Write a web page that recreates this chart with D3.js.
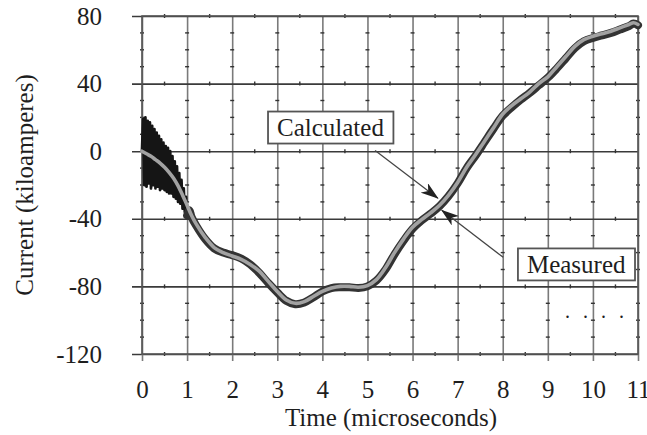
<!DOCTYPE html>
<html>
<head>
<meta charset="utf-8">
<title>Current vs time</title>
<style>
  html, body { margin: 0; padding: 0; background: #fff; }
  svg, text { font-family: "Liberation Serif", "Times New Roman", serif; }
  text { fill: #1e1e1e; }
</style>
</head>
<body>
<script src="https://cdn.jsdelivr.net/npm/d3@7/dist/d3.min.js"></script>
<script>
// axis ticks
var xTicks = [0, 1, 2, 3, 4, 5, 6, 7, 8, 9, 10, 11];
var yTicks = [-120, -80, -40, 0, 40, 80];

// calculated current (kA) vs time (microseconds)
var calcTime = [0, 0.1, 0.2, 0.3, 0.4, 0.5, 0.6, 0.7, 0.8, 0.9, 1.0, 1.1, 1.2, 1.4, 1.6, 1.8,
  2.0, 2.2, 2.4, 2.6, 2.8, 3.0, 3.2, 3.4, 3.6, 3.8, 4.0, 4.2, 4.4, 4.6, 4.8, 5.0, 5.2, 5.4,
  5.6, 5.8, 6.0, 6.2, 6.4, 6.6, 6.8, 7.0, 7.2, 7.4, 7.6, 7.8, 8.0, 8.2, 8.4, 8.6, 8.8, 9.0,
  9.2, 9.4, 9.6, 9.8, 10.0, 10.2, 10.4, 10.6, 10.8, 10.9, 11.0];
var calcCurrent = [0, -1.5, -3, -5, -7, -9.5, -12.5, -16, -20.5, -26, -32, -38, -43, -51, -57, -60,
  -62, -64, -67, -71, -77, -83, -88, -90, -89, -86, -83, -81, -80, -80, -80.5, -79.5, -76, -69,
  -60, -52, -45, -40.5, -36.5, -32, -26, -18.5, -9.5, -2, 6, 14, 22, 27, 31, 35, 40, 44,
  50, 56, 62, 66, 68, 69.5, 71, 73, 75, 76, 75];

// measured current: ringing during the first microsecond, then the main wave
var measTime = [0, 0.025, 0.05, 0.075, 0.1, 0.125, 0.15, 0.175, 0.2, 0.225, 0.25, 0.275, 0.3,
  0.325, 0.35, 0.375, 0.4, 0.425, 0.45, 0.475, 0.5, 0.525, 0.55, 0.575, 0.6, 0.625, 0.65,
  0.675, 0.7, 0.725, 0.75, 0.775, 0.8, 0.825, 0.85, 0.875, 0.9, 0.925, 0.95, 0.975, 1.0,
  1.05, 1.1, 1.2, 1.4, 1.6, 1.8, 2.0, 2.2, 2.4, 2.6, 2.8, 3.0, 3.2, 3.4, 3.6, 3.8, 4.0, 4.2,
  4.4, 4.6, 4.8, 5.0, 5.2, 5.4, 5.6, 5.8, 6.0, 6.2, 6.4, 6.6, 6.8, 7.0, 7.2, 7.4, 7.6, 7.8,
  8.0, 8.2, 8.4, 8.6, 8.8, 9.0, 9.2, 9.4, 9.6, 9.8, 10.0, 10.2, 10.4, 10.6, 10.8, 10.9, 11.0];
var measCurrent = [0, 19, -20, 20, -21, 18, -19, 17, -22, 15, -20, 13, -22,
  11, -21, 9, -23, 7, -22, 5, -23, 3, -24, 2, -25, 0, -25,
  -3, -27, -6, -28, -9, -30, -13, -31, -17, -34, -22, -36, -27, -38,
  -35, -39, -44, -52, -57.5, -60, -61.5, -63.5, -67, -72, -78, -83.5, -88.5, -90.5, -89.5, -86.5, -83, -81,
  -80.5, -80.5, -81, -80, -76.5, -70, -61, -53, -46, -41, -37, -32.5, -26.5, -19, -10, -2.5, 5.5, 13.5,
  21, 26, 30.5, 34.5, 39, 43.5, 49, 55, 61, 65, 67, 68.5, 70, 72, 74, 75.5, 74.5];
var ringingEnd = 1.05;

// annotation labels: box centre and arrow, in data units
var notes = [
  { text: "Calculated", t: 4.18, v: 14, from: [5.17, 0.4], to: [6.56, -27.8] },
  { text: "Measured", t: 9.63, v: -67, from: [8.01, -62.8], to: [6.65, -35] }
];

var W = 647, H = 435;
var x = d3.scaleLinear().domain([0, 11]).range([142, 638]);
var y = d3.scaleLinear().domain([-120, 80]).range([354, 16]);
var fmt = function (d) { return String(d); };

var svg = d3.select("body").append("svg")
  .attr("width", W).attr("height", H)
  .attr("font-family", "Liberation Serif, serif");

// vertical grid
svg.append("g")
  .attr("transform", "translate(0," + y(-120) + ")")
  .call(d3.axisBottom(x).tickValues(xTicks).tickSize(-(y(-120) - y(80))).tickFormat(""))
  .call(function (g) {
    g.select(".domain").remove();
    g.selectAll("line").attr("stroke", "#7a7a7a").attr("stroke-width", 1.6);
  });

// horizontal grid (reaches a bit left of the frame)
svg.append("g")
  .attr("transform", "translate(" + x(11) + ",0)")
  .call(d3.axisLeft(y).tickValues(yTicks).tickSize(x(11) - x(0) + 10).tickFormat(""))
  .call(function (g) {
    g.select(".domain").remove();
    g.selectAll("line").attr("stroke", "#3a3a3a").attr("stroke-width", 1.6);
  });

// minor ticks along the grid lines
var minorY = d3.range(-120, 81, 10).filter(function (v) { return v % 40 !== 0; });
var minorX = d3.range(0.5, 11, 1);
var minor = svg.append("g").attr("stroke", "#333").attr("stroke-width", 1.4);
xTicks.forEach(function (t) {
  minor.selectAll(null).data(minorY).enter().append("line")
    .attr("x1", x(t) - 2).attr("x2", x(t) + 2)
    .attr("y1", function (v) { return y(v); }).attr("y2", function (v) { return y(v); });
});
yTicks.forEach(function (v) {
  minor.selectAll(null).data(minorX).enter().append("line")
    .attr("x1", function (t) { return x(t); }).attr("x2", function (t) { return x(t); })
    .attr("y1", y(v) - 2).attr("y2", y(v) + 2);
});

// tick labels
svg.append("g")
  .attr("transform", "translate(0," + y(-120) + ")")
  .call(d3.axisBottom(x).tickValues(xTicks).tickSize(7).tickPadding(19).tickFormat(fmt))
  .call(function (g) {
    g.attr("font-family", null).attr("font-size", null);
    g.select(".domain").remove();
    g.selectAll("line").attr("stroke", "#7a7a7a").attr("stroke-width", 1.6);
    g.selectAll("text").attr("font-size", 25);
  });

svg.append("g")
  .attr("transform", "translate(" + x(0) + ",0)")
  .call(d3.axisLeft(y).tickValues(yTicks).tickSize(0).tickPadding(40).tickFormat(fmt))
  .call(function (g) {
    g.attr("font-family", null).attr("font-size", null);
    g.select(".domain").remove();
    g.selectAll("text").attr("font-size", 25);
  });

// frame
svg.append("rect")
  .attr("x", x(0)).attr("y", y(80))
  .attr("width", x(11) - x(0)).attr("height", y(-120) - y(80))
  .attr("fill", "none").attr("stroke", "#555").attr("stroke-width", 1.6);

// axis titles
svg.append("text")
  .attr("x", 391).attr("y", 426)
  .attr("text-anchor", "middle").attr("font-size", 25)
  .text("Time (microseconds)");

svg.append("text")
  .attr("transform", "translate(33," + ((y(80) + y(-120)) / 2) + ") rotate(-90)")
  .attr("text-anchor", "middle").attr("font-size", 25)
  .text("Current (kiloamperes)");

// curves
var line = d3.line()
  .x(function (d) { return x(d[0]); })
  .y(function (d) { return y(d[1]); });

var meas = measTime.map(function (t, i) { return [t, measCurrent[i]]; });
var calc = calcTime.map(function (t, i) { return [t, calcCurrent[i]]; });

svg.append("path")
  .datum(meas.filter(function (d) { return d[0] <= ringingEnd; }))
  .attr("d", line)
  .attr("fill", "none").attr("stroke", "#151515").attr("stroke-width", 2.8)
  .attr("stroke-linejoin", "round");

svg.append("path")
  .datum(meas.filter(function (d) { return d[0] >= 1.0; }))
  .attr("d", line.curve(d3.curveCatmullRom))
  .attr("fill", "none").attr("stroke", "#333").attr("stroke-width", 8)
  .attr("stroke-linecap", "round").attr("stroke-linejoin", "round");

svg.append("path")
  .datum(calc)
  .attr("d", line.curve(d3.curveCatmullRom))
  .attr("fill", "none").attr("stroke", "#a2a2a2").attr("stroke-width", 3.6)
  .attr("stroke-linecap", "round");

// arrows and labelled boxes
svg.append("defs").append("marker")
  .attr("id", "head")
  .attr("markerUnits", "userSpaceOnUse")
  .attr("viewBox", "0 0 18 12")
  .attr("markerWidth", 18).attr("markerHeight", 12)
  .attr("refX", 17).attr("refY", 6)
  .attr("orient", "auto")
  .append("path")
  .attr("d", "M0,0 L18,6 L0,12 L5,6 Z")
  .attr("fill", "#222");

notes.forEach(function (n) {
  svg.append("line")
    .attr("x1", x(n.from[0])).attr("y1", y(n.from[1]))
    .attr("x2", x(n.to[0])).attr("y2", y(n.to[1]))
    .attr("stroke", "#444").attr("stroke-width", 1.3)
    .attr("marker-end", "url(#head)");

  var g = svg.append("g");
  var label = g.append("text")
    .attr("x", x(n.t)).attr("y", y(n.v))
    .attr("dy", "0.34em")
    .attr("text-anchor", "middle").attr("font-size", 25)
    .text(n.text);
  var bb = label.node().getBBox();
  g.insert("rect", "text")
    .attr("x", bb.x - 9).attr("y", y(n.v) - 16)
    .attr("width", bb.width + 18).attr("height", 32)
    .attr("fill", "#fff").attr("stroke", "#555").attr("stroke-width", 1.8);
});

// faint dotted speck row seen at lower right of the original
svg.append("text")
  .attr("x", 565).attr("y", 318)
  .attr("font-size", 20).attr("letter-spacing", 13)
  .attr("fill", "#444")
  .text("....");
</script>
</body>
</html>
